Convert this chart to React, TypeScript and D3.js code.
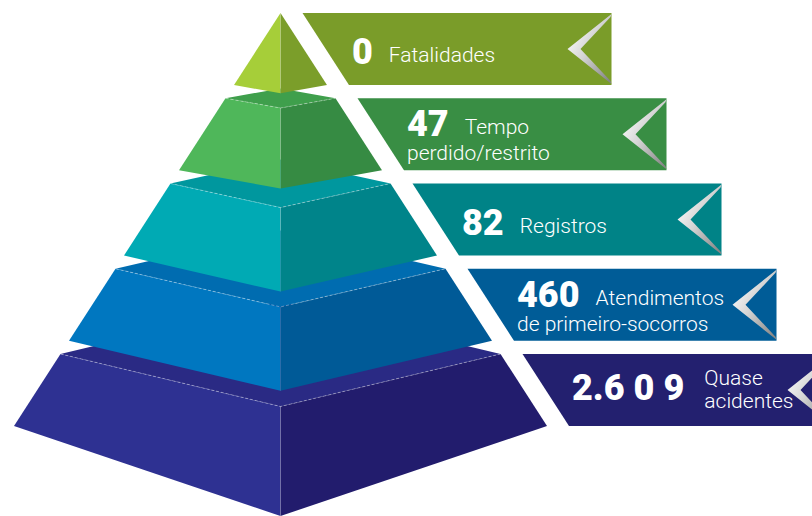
import { useEffect, useRef } from "react";
import * as d3 from "d3";

// values, top of the pyramid first
const counts = ["0", "47", "82", "460", "2.6 0 9"];
const firstLines = ["Fatalidades", "Tempo", "Registros", "Atendimentos", "Quase"];
const secondLines = ["", "perdido/restrito", "", "de primeiro-socorros", "acidentes"];
const labelModes = ["single", "wrap", "single", "wrap", "stack"];

// palette per level
const leftFaceColors = ["#a6ce39", "#4fb75a", "#00aab4", "#0077c0", "#2e3192"];
const rightFaceColors = ["#7b9e2a", "#368b43", "#00848a", "#005a97", "#221c6d"];
const topFaceColors = ["#8fb531", "#3f9f4c", "#00979e", "#006cb0", "#2a2a84"];
const panelColors = ["#7a9c29", "#398e44", "#008387", "#005c97", "#23206f"];

export default function App() {
  const ref = useRef<SVGSVGElement>(null);

  useEffect(() => {
    document.body.style.margin = "0";
    const svg = d3.select(ref.current);
    svg.selectAll("*").remove();

    const cx = 280.5;
    const gap = 22;
    const panelLen = 309;
    const levels = d3.range(counts.length);

    // vertical bands for slices and panels
    const band = d3.scaleBand<number>().domain(levels).range([13, 426]).paddingInner(0.155);
    // half width of the pyramid at a given y
    const halfW = d3.scaleLinear().domain([13, 426]).range([0, 266.5]);
    // how far the front corner drops below the side corners
    const depth = d3.scaleLinear()
      .domain([13, 170, 183, 340, 353, 426])
      .range([0, 18, 24, 50, 52, 90]);

    const defs = svg.append("defs");
    const grad = defs.append("linearGradient")
      .attr("id", "chev")
      .attr("x1", 0).attr("y1", 0.2).attr("x2", 0.9).attr("y2", 1);
    grad.append("stop").attr("offset", "0%").attr("stop-color", "#ffffff");
    grad.append("stop").attr("offset", "45%").attr("stop-color", "#d4d4d4");
    grad.append("stop").attr("offset", "100%").attr("stop-color", "#858585");

    const line = d3.line();

    // Pyramid: bottom slice first so the upper ones sit on it
    const pyr = svg.append("g");
    [...levels].reverse().forEach(i => {
      const y0 = band(i)!;
      const y1 = y0 + band.bandwidth();
      const w0 = halfW(y0), w1 = halfW(y1);
      const d0 = depth(y0), d1 = depth(y1);
      const g = pyr.append("g");

      if (w0 > 0) {
        g.append("path")
          .attr("d", line([[cx - w0, y0], [cx, y0 - d0], [cx + w0, y0], [cx, y0 + d0]]) + "Z")
          .attr("fill", topFaceColors[i]);
      }
      g.append("path")
        .attr("d", line([[cx - w0, y0], [cx, y0 + d0], [cx, y1 + d1], [cx - w1, y1]]) + "Z")
        .attr("fill", leftFaceColors[i]);
      g.append("path")
        .attr("d", line([[cx + w0, y0], [cx, y0 + d0], [cx, y1 + d1], [cx + w1, y1]]) + "Z")
        .attr("fill", rightFaceColors[i]);

      if (w0 > 0) {
        g.append("path")
          .attr("d", line([[cx - w0, y0], [cx, y0 + d0], [cx + w0, y0]]))
          .attr("fill", "none")
          .attr("stroke", "rgba(255,255,255,0.45)")
          .attr("stroke-width", 0.8)
          .attr("stroke-dasharray", "3 2");
      }
      g.append("line")
        .attr("x1", cx).attr("x2", cx)
        .attr("y1", y0 + d0).attr("y2", y1 + d1)
        .attr("stroke", "rgba(255,255,255,0.18)")
        .attr("stroke-width", 0.8);
    });

    // Label panels
    const panels = svg.append("g");
    levels.forEach(i => {
      const y0 = band(i)!;
      const y1 = y0 + band.bandwidth();
      const cy = (y0 + y1) / 2;
      const xl0 = cx + halfW(y0) + gap;
      const xl1 = cx + halfW(y1) + gap;
      const xr = xl0 + panelLen;
      const g = panels.append("g");

      g.append("path")
        .attr("d", line([[xl0, y0], [xr, y0], [xr, y1], [xl1, y1]]) + "Z")
        .attr("fill", panelColors[i]);

      g.append("path")
        .attr("d", line([[xr, y0 + 1], [xr - 44, cy], [xr, y1 - 1], [xr - 1, y1 - 4], [xr - 31, cy], [xr - 1, y0 + 4]]) + "Z")
        .attr("fill", "url(#chev)");

      const tx = xl1 + 3;
      const mode = labelModes[i];
      const numBase = mode === "single" ? cy + 15 : mode === "wrap" ? cy + 2 : cy + 10;

      const num = g.append("text")
        .attr("x", tx)
        .attr("y", numBase)
        .attr("fill", "#fff")
        .style("font-family", "Roboto, 'Open Sans', sans-serif")
        .style("font-weight", 900)
        .style("font-size", "36px")
        .text(counts[i]);
      const nw = (num.node() as SVGTextElement).getComputedTextLength();

      const labelStyle = (t: d3.Selection<SVGTextElement, unknown, null, undefined>) =>
        t.attr("fill", "#fff")
          .style("font-family", "Roboto, 'Open Sans', sans-serif")
          .style("font-weight", 300)
          .style("font-size", "21px");

      if (mode === "stack") {
        g.append("text").attr("x", tx + nw + 20).attr("y", cy - 5).call(labelStyle).text(firstLines[i]);
        g.append("text").attr("x", tx + nw + 20).attr("y", cy + 18).call(labelStyle).text(secondLines[i]);
      } else {
        g.append("text").attr("x", tx + nw + 16).attr("y", numBase - 2).call(labelStyle).text(firstLines[i]);
        if (secondLines[i]) {
          g.append("text").attr("x", tx).attr("y", cy + 26).call(labelStyle).text(secondLines[i]);
        }
      }
    });
  }, []);

  return <svg ref={ref} width={812} height={516} style={{ display: "block", overflow: "hidden" }} />;
}
